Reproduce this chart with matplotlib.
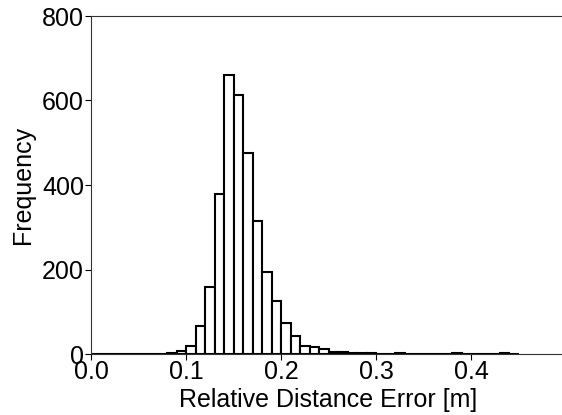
import matplotlib
matplotlib.use("Agg")
import matplotlib.pyplot as plt
import numpy as np

plt.rcParams['font.family'] = ['Liberation Sans', 'DejaVu Sans']

# Histogram bins (left edges, width 0.01) and counts
bin_left = [0.00, 0.01, 0.02, 0.03, 0.04, 0.05, 0.06, 0.07, 0.08, 0.09,
            0.10, 0.11, 0.12, 0.13, 0.14, 0.15, 0.16, 0.17, 0.18, 0.19,
            0.20, 0.21, 0.22, 0.23, 0.24, 0.25, 0.26, 0.27, 0.28, 0.29,
            0.30, 0.31, 0.32, 0.33, 0.34, 0.35, 0.36, 0.37, 0.38, 0.39,
            0.40, 0.41, 0.42, 0.43, 0.44]
counts = [0, 1, 0, 0, 0, 1, 0, 1, 2, 8,
          18, 66, 158, 379, 661, 614, 476, 315, 193, 126,
          73, 43, 20, 17, 12, 5, 5, 2, 2, 3,
          1, 0, 2, 0, 0, 0, 0, 1, 2, 1,
          0, 0, 0, 2, 0]
bin_width = 0.01

xticks = [0.0, 0.1, 0.2, 0.3, 0.4]
yticks = [0, 200, 400, 600, 800]

fig = plt.figure(figsize=(5.62, 4.15), dpi=100)
ax = fig.add_axes([91/562, 1-354/415, 475/562, 338/415])

ax.bar(bin_left, counts, width=bin_width, align='edge',
       facecolor='white', edgecolor='black', linewidth=1.5)

ax.set_xlim(0, 0.5)
ax.set_ylim(0, 800)
ax.set_xticks(xticks)
ax.set_xticklabels([f"{t:.1f}" for t in xticks])
ax.set_yticks(yticks)
ax.tick_params(labelsize=18, length=4, width=0.8)
ax.tick_params(axis='x', pad=0)
ax.tick_params(axis='y', pad=1)
ax.set_xlabel("Relative Distance Error [m]", fontsize=18, labelpad=3)
ax.set_ylabel("Frequency", fontsize=18, labelpad=5)
ax.spines['right'].set_visible(False)
for s in ['left', 'top', 'bottom']:
    ax.spines[s].set_linewidth(0.8)
    ax.spines[s].set_color('#333333')

fig.savefig("out.png", dpi=100)
